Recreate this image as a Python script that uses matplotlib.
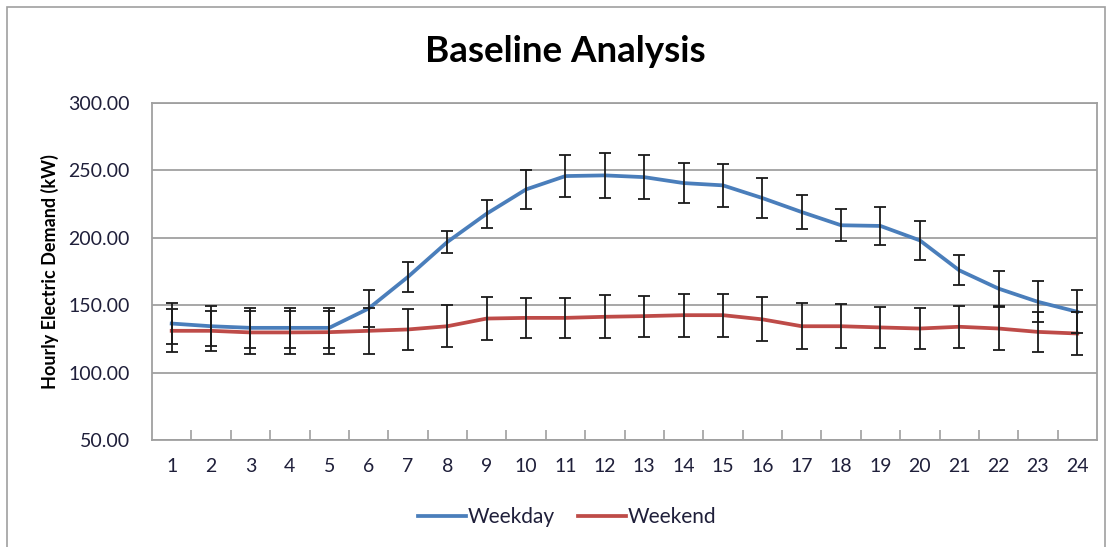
import matplotlib.pyplot as plt
from matplotlib.patches import Rectangle
from matplotlib.ticker import FixedLocator

plt.rcParams['font.family'] = ['Lato', 'DejaVu Sans']

# dati
ore = list(range(1, 25))
weekday = [136.4, 134.4, 133.2, 133.2, 133.2, 147.5, 171.0, 196.9, 217.9, 235.9, 245.8, 246.3,
           245.0, 240.6, 238.9, 229.5, 219.1, 209.3, 208.8, 198.1, 175.9, 162.3, 152.5, 145.1]
weekday_err = [15, 15, 15, 15, 15, 14, 11.4, 8.3, 10.5, 14.2, 15.7, 16.5,
               16.3, 15, 15.7, 15, 12.7, 12, 14, 14.2, 11.2, 13.2, 15.2, 16]
weekend = [131.0, 131.0, 129.8, 129.8, 130.0, 131.0, 132.0, 134.4, 140.1, 140.6, 140.6, 141.4,
           141.9, 142.6, 142.6, 139.5, 134.4, 134.4, 133.5, 132.7, 134.0, 132.7, 130.2, 129.0]
weekend_err = [16, 15, 16, 16, 16, 17, 15.5, 15.7, 15.7, 15, 15, 15.8,
               15.2, 16, 16, 16.3, 17, 16.5, 15.5, 15.5, 15.5, 16, 15, 15.7]
yticks = [50, 100, 150, 200, 250, 300]

blu = "#4A7EBB"
rosso = "#BE4B48"
grigio = "#A0A0A0"
testo = "#1F1F3A"

fig = plt.figure(figsize=(11.11, 5.47), dpi=100)
fig.patches.append(Rectangle((7 / 1111, -0.05), 1098 / 1111, 1.05 - 7 / 547,
                             transform=fig.transFigure, fill=False, edgecolor=grigio, linewidth=1.2))

ax = fig.add_axes([152 / 1111, 107 / 547, 945 / 1111, 337 / 547])

ax.plot(ore, weekday, color=blu, linewidth=2.7, label="Weekday", zorder=3)
ax.plot(ore, weekend, color=rosso, linewidth=2.7, label="Weekend", zorder=3)
ax.errorbar(ore, weekday, yerr=weekday_err, fmt="none", ecolor="#1A1A1A",
            elinewidth=1.3, capsize=4, capthick=1.3, zorder=4)
ax.errorbar(ore, weekend, yerr=weekend_err, fmt="none", ecolor="#1A1A1A",
            elinewidth=1.3, capsize=4, capthick=1.3, zorder=4)

ax.set_xlim(0.5, 24.5)
ax.set_ylim(50, 300)
ax.set_yticks(yticks)
ax.set_yticklabels([f"{v:.2f}" for v in yticks], fontsize=14, color=testo)
ax.set_xticks(ore)
ax.set_xticklabels([str(h) for h in ore], fontsize=14, color=testo)
ax.tick_params(axis="x", which="major", length=0, pad=13)
ax.tick_params(axis="y", which="major", length=0, pad=16)
ax.xaxis.set_minor_locator(FixedLocator([h + 0.5 for h in ore[:-1]]))
ax.tick_params(axis="x", which="minor", direction="in", length=7, width=1.2, color=grigio)
ax.grid(axis="y", color=grigio, linewidth=1.3, zorder=0)
for s in ax.spines.values():
    s.set_color(grigio)
    s.set_linewidth(1.3)

ax.set_ylabel("Hourly Electric Demand (kW)", fontsize=13, fontweight="bold", labelpad=7)
fig.text(565 / 1111, 1 - 52 / 547, "Baseline Analysis", fontsize=26.5, fontweight="bold",
         ha="center", va="center")

fig.legend(loc="center", bbox_to_anchor=(567 / 1111, 1 - 517 / 547), ncol=2, frameon=False,
           fontsize=15, handlelength=2.3, handletextpad=0.1, columnspacing=1.1,
           labelcolor=testo)

plt.savefig("out.png", dpi=100)
